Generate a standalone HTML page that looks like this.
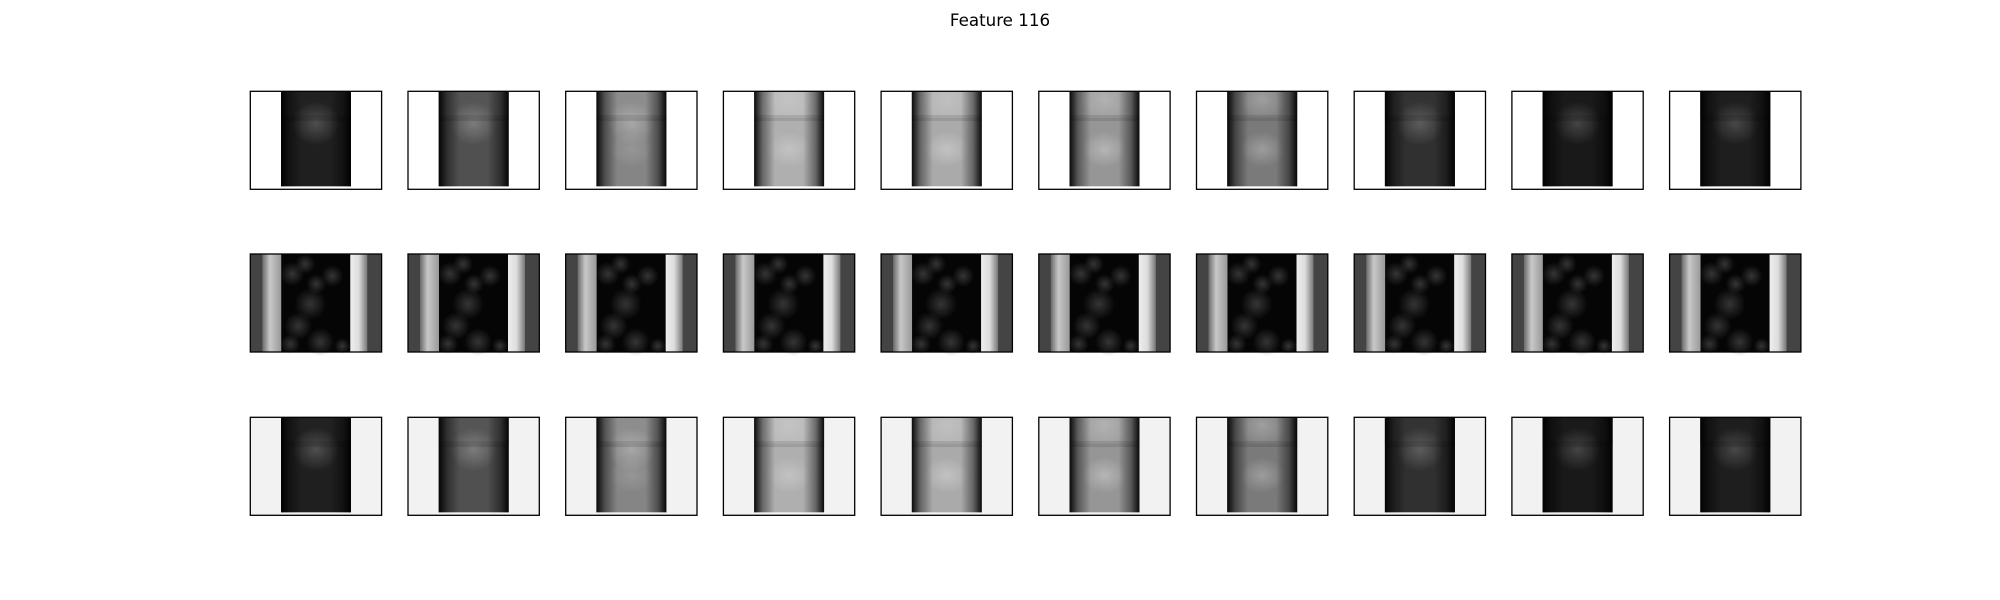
<!DOCTYPE html>
<html><head><meta charset="utf-8"><style>
html,body{margin:0;padding:0;background:#fff;width:2000px;height:600px;overflow:hidden}
svg{display:block}
</style></head><body>
<svg id="fig" width="2000" height="600" viewBox="0 0 2000 600" xmlns="http://www.w3.org/2000/svg">
<defs>
<linearGradient id="edgeDark" x1="0" x2="1" y1="0" y2="0">
<stop offset="0" stop-color="#000" stop-opacity="0.95"/>
<stop offset="0.12" stop-color="#000" stop-opacity="0.45"/>
<stop offset="0.3" stop-color="#000" stop-opacity="0.05"/>
<stop offset="0.7" stop-color="#000" stop-opacity="0.05"/>
<stop offset="0.88" stop-color="#000" stop-opacity="0.45"/>
<stop offset="1" stop-color="#000" stop-opacity="0.95"/>
</linearGradient>
<radialGradient id="blob"><stop offset="0" stop-color="#fff" stop-opacity="0.45"/><stop offset="1" stop-color="#fff" stop-opacity="0"/></radialGradient>
<radialGradient id="spot"><stop offset="0" stop-color="#555" stop-opacity="0.6"/><stop offset="1" stop-color="#555" stop-opacity="0"/></radialGradient>
<linearGradient id="bandL" x1="0" x2="1"><stop offset="0" stop-color="#6a6a6a"/><stop offset="0.4" stop-color="#c8c8c8"/><stop offset="1" stop-color="#999"/></linearGradient>
<linearGradient id="bandR" x1="0" x2="1"><stop offset="0" stop-color="#eee"/><stop offset="0.5" stop-color="#ddd"/><stop offset="1" stop-color="#777"/></linearGradient>
</defs>
<text x="1000" y="26" text-anchor="middle" font-family="DejaVu Sans, Liberation Sans, sans-serif" font-size="16.7" fill="#000">Feature 116</text>
</svg>
<script>
// brightness of the main image per column (rows 1 and 3)
const columns = [0,1,2,3,4,5,6,7,8,9];
const brightness = [0.13, 0.33, 0.55, 0.72, 0.70, 0.62, 0.50, 0.20, 0.10, 0.12];
const upperBlob = [0.15, 0.2, 0.25, 0.1, 0.1, 0.15, 0.2, 0.15, 0.12, 0.12];
const lowerBlob = [0.0, 0.0, 0.15, 0.45, 0.55, 0.55, 0.45, 0.0, 0.0, 0.0];
const rowBackgrounds = ['#ffffff', null, '#f2f2f2'];

const NS = 'http://www.w3.org/2000/svg';
const svg = document.getElementById('fig');
const x0 = 250.3, dx = 157.7, W = 131.3, H = 98;
const rowY = [91.3, 254, 417.3];
function colX(i){ return x0 + i*dx; }
function mk(tag, attrs, parent){
  const e = document.createElementNS(NS, tag);
  for (const k in attrs) e.setAttribute(k, attrs[k]);
  (parent||svg).appendChild(e); return e;
}
function gray(v){ const c = Math.round(Math.max(0,Math.min(1,v))*255); return `rgb(${c},${c},${c})`; }

rowY.forEach((y, r) => {
  columns.forEach(i => {
    const x = colX(i);
    const g = mk('g', {});
    
    
    if (r === 1) {
      mk('rect', {x:x, y:y, width:W, height:H, fill:'#444'}, g);
      mk('rect', {x:x+12, y:y, width:19, height:H, fill:'url(#bandL)'}, g);
      mk('rect', {x:x+31, y:y, width:69, height:H, fill:'#050505'}, g);
      mk('rect', {x:x+100, y:y, width:17, height:H, fill:'url(#bandR)'}, g);
      [[42,20,12],[60,50,16],[48,72,14],[82,22,11],[70,88,14],[40,90,10],[92,92,8],[66,30,10],[55,10,10]].forEach(s=>{
        mk('ellipse', {cx:x+s[0], cy:y+s[1], rx:s[2], ry:s[2], fill:'url(#spot)'}, g);
      });
    } else {
      mk('rect', {x:x, y:y, width:W, height:H, fill:rowBackgrounds[r]}, g);
      const ix = x+30.7, iw = 70, ih = 95;
      const b = brightness[i];
      mk('rect', {x:ix, y:y, width:iw, height:ih, fill:gray(b)}, g);
      mk('rect', {x:ix, y:y, width:iw, height:ih*0.28, fill:gray(b*1.1), opacity:0.6}, g);
      if (upperBlob[i] > 0) mk('ellipse', {cx:ix+35, cy:y+(lowerBlob[i]>0.3?8:32), rx:24, ry:22, fill:'url(#blob)', opacity:Math.min(1,upperBlob[i]*2+0.2)}, g);
      if (lowerBlob[i] > 0) mk('ellipse', {cx:ix+35, cy:y+58, rx:22, ry:18, fill:'url(#blob)', opacity:lowerBlob[i]+0.2}, g);
      mk('rect', {x:ix, y:y+ih*0.25, width:iw, height:6, fill:'#000', opacity:0.1}, g);
      mk('rect', {x:ix, y:y, width:iw, height:ih, fill:'url(#edgeDark)'}, g);
    }
    mk('rect', {x:x, y:y, width:W, height:H, fill:'none', stroke:'#000', 'stroke-width':1.3}, g);
  });
});
</script>
</body></html>
